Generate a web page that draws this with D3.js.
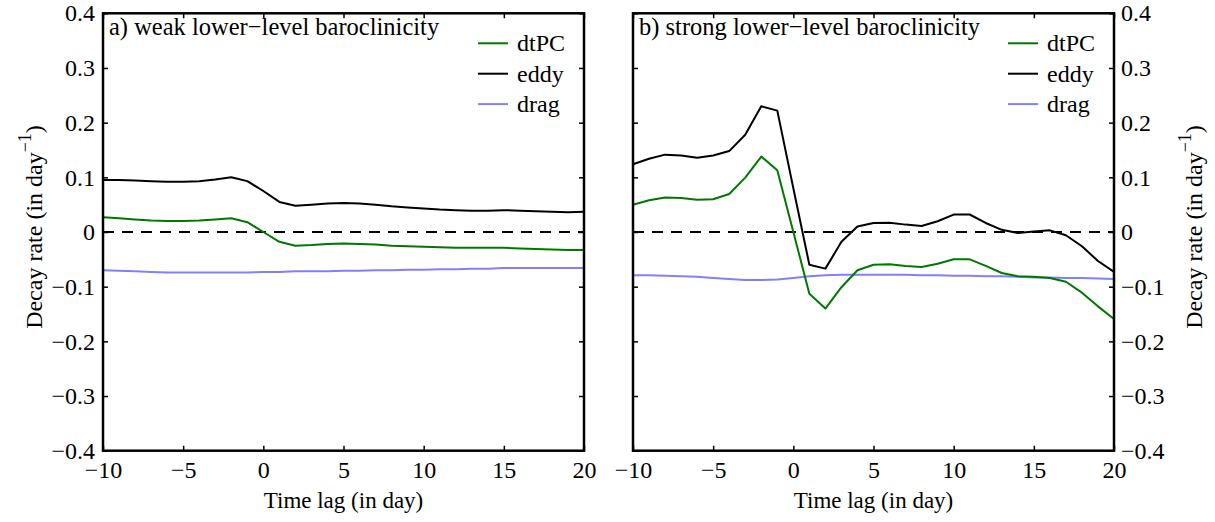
<!DOCTYPE html>
<html>
<head>
<meta charset="utf-8">
<script src="https://cdn.jsdelivr.net/npm/d3@7"></script>
<style>
  html, body { margin: 0; padding: 0; background: #fff; }
  svg text { font-family: "Liberation Serif", "DejaVu Serif", serif; fill: #000; }
</style>
</head>
<body>
<svg id="chart" width="1215" height="522"></svg>
<script>
// ---- data ----
const lags = d3.range(-10, 21);
const xTicks = [-10, -5, 0, 5, 10, 15, 20];
const yTicks = [-0.4, -0.3, -0.2, -0.1, 0, 0.1, 0.2, 0.3, 0.4];
const seriesNames = ["dtPC", "eddy", "drag"];
const titles = ["a) weak lower\u2212level baroclinicity", "b) strong lower\u2212level baroclinicity"];

const weakDtPC = [0.027, 0.025, 0.023, 0.021, 0.020, 0.020, 0.021, 0.023, 0.025, 0.018, 0.000,
  -0.018, -0.025, -0.024, -0.022, -0.021, -0.022, -0.023, -0.025, -0.026, -0.027,
  -0.028, -0.029, -0.029, -0.029, -0.029, -0.030, -0.031, -0.032, -0.033, -0.033];
const weakEddy = [0.095, 0.095, 0.094, 0.093, 0.092, 0.092, 0.093, 0.096, 0.100, 0.093, 0.075,
  0.055, 0.048, 0.050, 0.052, 0.053, 0.052, 0.050, 0.047, 0.045, 0.043,
  0.041, 0.040, 0.039, 0.039, 0.040, 0.039, 0.038, 0.037, 0.036, 0.037];
const weakDrag = [-0.070, -0.071, -0.072, -0.073, -0.074, -0.074, -0.074, -0.074, -0.074, -0.074, -0.073,
  -0.073, -0.072, -0.072, -0.072, -0.071, -0.071, -0.070, -0.070, -0.069, -0.069,
  -0.068, -0.068, -0.067, -0.067, -0.066, -0.066, -0.066, -0.066, -0.066, -0.066];

const strongDtPC = [0.050, 0.058, 0.063, 0.062, 0.059, 0.060, 0.0695, 0.0995, 0.138, 0.113, 0.000,
  -0.113, -0.140, -0.101, -0.070, -0.060, -0.059, -0.062, -0.064, -0.058, -0.050,
  -0.050, -0.062, -0.075, -0.081, -0.082, -0.084, -0.091, -0.111, -0.136, -0.159];
const strongEddy = [0.124, 0.134, 0.1415, 0.140, 0.136, 0.140, 0.148, 0.178, 0.230, 0.222, 0.080,
  -0.060, -0.067, -0.018, 0.010, 0.0165, 0.017, 0.0135, 0.011, 0.0196, 0.0318,
  0.032, 0.0165, 0.004, -0.002, 0.001, 0.003, -0.006, -0.026, -0.053, -0.073];
const strongDrag = [-0.079, -0.079, -0.080, -0.081, -0.082, -0.084, -0.086, -0.088, -0.088, -0.087, -0.084,
  -0.081, -0.079, -0.078, -0.078, -0.078, -0.078, -0.078, -0.079, -0.079, -0.080,
  -0.080, -0.081, -0.081, -0.082, -0.083, -0.083, -0.084, -0.084, -0.085, -0.086];

// ---- build ----
const colors = { dtPC: "#007800", eddy: "#000000", drag: "#8080ff" };
const panels = [
  { left: 103, right: 584, title: titles[0], labelSide: "left",
    data: { dtPC: weakDtPC, eddy: weakEddy, drag: weakDrag } },
  { left: 633, right: 1114, title: titles[1], labelSide: "right",
    data: { dtPC: strongDtPC, eddy: strongEddy, drag: strongDrag } }
];
const plotTop = 13.3, plotBottom = 450.7;
const svg = d3.select("#chart");
const fs = 24;

panels.forEach(p => {
  const x = d3.scaleLinear().domain([-10, 20]).range([p.left, p.right]);
  const y = d3.scaleLinear().domain([-0.4, 0.4]).range([plotBottom, plotTop]);
  const g = svg.append("g");

  // zero dashed line
  g.append("line")
    .attr("x1", x(-10)).attr("x2", x(20)).attr("y1", y(0)).attr("y2", y(0))
    .attr("stroke", "#000").attr("stroke-width", 2).attr("stroke-dasharray", "11,8");

  // series lines
  const line = d3.line().x((d, i) => x(lags[i])).y(d => y(d));
  ["drag", "dtPC", "eddy"].forEach(name => {
    g.append("path").datum(p.data[name])
      .attr("d", line).attr("fill", "none")
      .attr("stroke", colors[name]).attr("stroke-width", 2)
      .attr("stroke-linejoin", "round");
  });

  // axes with inward ticks
  const tl = 5;
  const bAxis = g.append("g").attr("transform", `translate(0,${plotBottom})`)
    .call(d3.axisBottom(x).tickValues(xTicks).tickSize(-tl).tickSizeOuter(0).tickPadding(10)
      .tickFormat(d => d < 0 ? "\u2212" + Math.abs(d) : d));
  const tAxis = g.append("g").attr("transform", `translate(0,${plotTop})`)
    .call(d3.axisTop(x).tickValues(xTicks).tickSize(-tl).tickSizeOuter(0).tickFormat(""));
  const yfmt = d => d === 0 ? "0" : (d < 0 ? "\u2212" : "") + Math.abs(d).toFixed(1);
  const lAxis = g.append("g").attr("transform", `translate(${p.left},0)`)
    .call(d3.axisLeft(y).tickValues(yTicks).tickSize(-tl).tickSizeOuter(0).tickPadding(8)
      .tickFormat(p.labelSide === "left" ? yfmt : ""));
  const rAxis = g.append("g").attr("transform", `translate(${p.right},0)`)
    .call(d3.axisRight(y).tickValues(yTicks).tickSize(-tl).tickSizeOuter(0).tickPadding(7)
      .tickFormat(p.labelSide === "right" ? yfmt : ""));
  [bAxis, tAxis, lAxis, rAxis].forEach(a => {
    a.select(".domain").remove();
    a.selectAll(".tick line").attr("stroke", "#000").attr("stroke-width", 1.5);
    a.selectAll("text").attr("font-size", fs).attr("font-family", "Liberation Serif").attr("fill", "#000");
  });

  // frame
  g.append("rect").attr("x", p.left).attr("y", plotTop)
    .attr("width", p.right - p.left).attr("height", plotBottom - plotTop)
    .attr("fill", "none").attr("stroke", "#000").attr("stroke-width", 2.5);

  // title
  g.append("text").attr("x", p.left + 6).attr("y", plotTop + 22)
    .attr("font-size", 24.5).text(p.title);

  // legend
  const lx = p.right - 106;
  seriesNames.forEach((name, i) => {
    const ly = plotTop + 30 + i * 30.4;
    g.append("line").attr("x1", lx).attr("x2", lx + 30).attr("y1", ly).attr("y2", ly)
      .attr("stroke", colors[name]).attr("stroke-width", 2);
    g.append("text").attr("x", lx + 39).attr("y", ly).attr("dy", "0.33em")
      .attr("font-size", fs).text(name);
  });

  // x label
  g.append("text").attr("x", (p.left + p.right) / 2).attr("y", 508)
    .attr("text-anchor", "middle").attr("font-size", 23).text("Time lag (in day)");

  // y label
  const yl = p.labelSide === "left" ? 42 : 1202;
  const t = g.append("text")
    .attr("transform", `translate(${yl},${(plotTop + plotBottom) / 2 - 5}) rotate(-90)`)
    .attr("text-anchor", "middle").attr("font-size", fs);
  t.append("tspan").text("Decay rate (in day");
  t.append("tspan").attr("dy", -11).attr("font-size", 18).text("\u22121");
  t.append("tspan").attr("dy", 11).text(")");
});
</script>
</body>
</html>
